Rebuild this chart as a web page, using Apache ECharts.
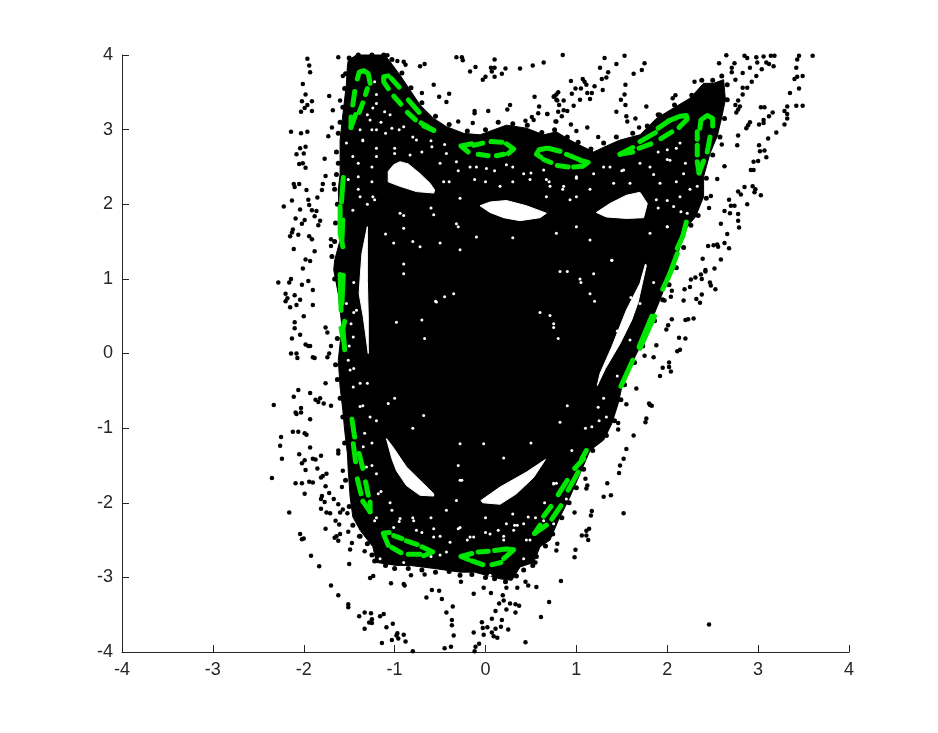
<!DOCTYPE html>
<html>
<head>
<meta charset="utf-8">
<title>scatter</title>
<script src="https://cdn.jsdelivr.net/npm/echarts@6/dist/echarts.min.js"></script>
<style>
html, body { margin: 0; background: #fff; }
#chart { width: 938px; height: 733px; }
</style>
</head>
<body>
<div id="chart"></div>
<script>
// axis ticks
const ticks = [-4, -3, -2, -1, 0, 1, 2, 3, 4];

// solid part of the orbit cloud
const massOutline = [
  [-1.51,3.93],[-1.42,4.0],[-1.11,4.0],[-1.05,3.91],[-0.94,3.73],[-0.83,3.53],[-0.72,3.33],[-0.57,3.15],[-0.43,3.04],
  [-0.24,2.95],[-0.06,2.93],[0.23,3.06],[0.45,3.02],[0.64,2.93],[0.78,2.97],[0.93,2.86],[1.04,2.79],[1.19,2.70],
  [1.33,2.78],[1.48,2.86],[1.70,2.93],[1.88,3.15],[2.07,3.29],[2.25,3.42],[2.40,3.62],[2.51,3.62],[2.62,3.67],
  [2.64,3.40],[2.60,3.17],[2.55,2.91],[2.47,2.68],[2.40,2.37],[2.40,2.10],[2.31,1.83],[2.22,1.70],[2.14,1.43],
  [2.07,1.16],[1.99,0.94],[1.92,0.72],[1.83,0.45],[1.70,0.09],[1.61,-0.13],[1.50,-0.45],[1.46,-0.67],[1.39,-0.94],
  [1.30,-1.16],[1.15,-1.30],[1.04,-1.61],[0.93,-1.92],[0.80,-2.24],[0.71,-2.50],[0.60,-2.59],[0.53,-2.80],[0.38,-2.86],
  [0.29,-3.04],[0.16,-3.02],[-0.12,-2.93],[-0.28,-2.93],[-0.57,-2.88],[-0.83,-2.84],[-0.98,-2.84],[-1.20,-2.80],
  [-1.24,-2.59],[-1.38,-2.37],[-1.46,-2.19],[-1.49,-1.92],[-1.51,-1.57],[-1.52,-1.34],[-1.55,-1.03],[-1.57,-0.76],
  [-1.60,-0.45],[-1.62,-0.09],[-1.58,0.36],[-1.62,0.80],[-1.67,1.12],[-1.66,1.25],[-1.60,1.52],[-1.62,2.19],
  [-1.60,2.41],[-1.60,2.86],[-1.58,3.09],[-1.53,3.62],[-1.52,3.85]
];

// empty islands inside the cloud
const holeTopLeft = [[-0.94,2.57],[-0.85,2.54],[-0.72,2.41],[-0.61,2.28],[-0.56,2.19],[-0.57,2.15],[-0.76,2.17],[-0.94,2.24],[-1.07,2.30],[-1.07,2.44],[-1.01,2.53]];
const holeTopMid = [[-0.06,1.98],[0.05,2.03],[0.23,2.05],[0.45,1.98],[0.67,1.88],[0.60,1.82],[0.38,1.78],[0.20,1.82],[0.05,1.89]];
const holeTopRight = [[1.22,1.89],[1.37,2.01],[1.55,2.12],[1.70,2.16],[1.78,2.01],[1.74,1.82],[1.55,1.81],[1.33,1.83]];
const holeLeft = [[-1.30,1.70],[-1.36,1.34],[-1.38,1.0],[-1.39,0.80],[-1.345,0.49],[-1.29,0],[-1.29,0.49],[-1.30,0.98]];
const holeRight = [[1.76,1.20],[1.70,0.94],[1.55,0.58],[1.39,0.09],[1.26,-0.27],[1.23,-0.43],[1.32,-0.20],[1.48,0.13],[1.61,0.45],[1.68,0.69],[1.77,1.18]];
const holeLowLeft = [[-1.09,-1.14],[-1.02,-1.25],[-0.87,-1.52],[-0.57,-1.88],[-0.57,-1.91],[-0.72,-1.90],[-0.87,-1.77],[-0.98,-1.57],[-1.03,-1.41]];
const holeLowRight = [[0.66,-1.42],[0.53,-1.66],[0.34,-1.88],[0.16,-2.02],[-0.03,-2.0],[-0.05,-1.97],[0.16,-1.79],[0.45,-1.59]];

// dots that make the rough rim of the cloud
const rimDots = [
  [-1.54,3.75],[-1.55,3.55],[-1.57,3.3],[-1.6,3.1],[-1.62,2.95],[-1.64,2.7],[-1.62,2.55],[-1.64,2.4],[-1.66,2.2],[-1.63,2.0],[-1.65,1.75],
  [-1.66,1.5],[-1.69,1.3],[-1.66,1.0],[-1.63,0.2],[-1.65,-0.15],[-1.63,-0.35],[-1.6,-0.6],[-1.57,-0.85],[-1.55,-1.2],[-1.54,-1.7],[-1.5,-2.05],
  [-1.46,-2.3],[-1.38,-2.45],[-1.3,-2.55],[-1.25,-2.7],[-1.22,-2.78],[-1.1,-2.84],[-1.0,-2.88],[-0.85,-2.88],[-0.7,-2.9],[-0.55,-2.93],[-0.4,-2.92],
  [-0.28,-2.97],[-0.15,-2.96],[0.0,-3.0],[0.1,-3.02],[0.22,-3.06],[0.34,-2.98],[0.42,-2.9],[0.52,-2.84],[0.56,-2.72],[0.66,-2.58],[0.74,-2.42],
  [0.84,-2.2],[0.92,-2.0],[1.0,-1.8],[1.08,-1.55],[1.18,-1.3],[1.33,-1.1],[1.42,-0.9],[1.49,-0.62],[1.53,-0.42],[1.64,-0.12],[1.73,0.1],
  [1.86,0.44],[1.95,0.72],[2.02,0.92],[2.1,1.15],[2.18,1.42],[2.26,1.72],[2.34,1.85],[2.43,2.08],[2.43,2.35],[2.5,2.66],[2.58,2.9],[2.63,3.15],
  [2.66,3.4],[2.66,3.6],[2.6,3.72],[2.5,3.66],[2.38,3.66],[2.27,3.46],[2.08,3.33],[1.9,3.2],[1.78,3.05],[1.62,2.95],[1.44,2.9],[1.3,2.82],
  [1.16,2.74],[1.02,2.83],[0.9,2.9],[0.76,3.0],[0.62,2.96],[0.46,3.06],[0.3,3.08],[0.14,3.1],[0.0,3.0],[-0.2,2.98],[-0.4,3.07],[-0.55,3.18],
  [-0.7,3.36],[-0.82,3.56],[-0.92,3.76],[-1.03,3.94],[-1.12,4.0],[-1.25,4.0],[-1.4,4.0],[-1.5,3.96]
];

// scattered points outside the cloud
const outerDots = [
  [-1.96,3.95],[-1.62,3.97],[-1.94,3.86],[-1.93,3.77],[-2.01,3.61],[-1.98,3.47],[-2.02,3.38],[-1.91,3.38],[-1.96,3.33],[-1.99,3.29],
  [-2.03,3.24],[-1.91,3.25],[-1.72,3.45],[-1.60,3.39],[-1.68,3.26],[-1.69,3.03],[-1.73,2.91],[-1.57,3.72],[-2.14,2.97],[-2.03,2.95],
  [-1.96,2.97],[-1.98,2.77],[-2.04,2.75],[-2.08,2.67],[-2.0,2.68],[-1.77,2.61],[-2.05,2.54],[-2.01,2.55],[-1.98,2.49],[-1.76,2.38],
  [-2.11,2.27],[-2.05,2.27],[-2.10,2.23],[-1.79,2.27],[-1.67,2.27],[-1.80,2.19],[-1.97,2.19],[-1.85,2.09],[-2.22,1.97],[-2.13,2.05],
  [-1.95,2.06],[-1.94,1.99],[-2.04,1.93],[-1.91,1.92],[-1.86,1.91],[-1.88,1.84],[-2.09,1.81],[-1.99,1.79],[-2.02,1.74],[-1.82,1.78],
  [-1.84,1.72],[-2.12,1.66],[-2.13,1.62],[-2.15,1.57],[-2.06,1.59],[-1.94,1.57],[-1.91,1.53],[-1.70,1.53],[-1.70,1.44],[-2.11,1.40],
  [-1.88,1.37],[-1.98,1.26],[-1.93,1.24],[-2.01,1.14],
  [-2.28,0.95],[-2.14,1.0],[-2.16,0.95],[-2.2,0.8],[-2.18,0.74],[-2.2,0.7],[-2.15,0.62],[-2.08,0.65],[-2.1,0.78],[-2.02,0.92],[-2.04,0.72],
  [-1.95,0.97],[-1.9,0.85],[-1.9,0.65],[-2.0,0.5],[-2.1,0.42],[-2.1,0.34],[-2.13,0.2],[-2.04,0.25],[-1.98,0.12],[-1.95,0.1],[-1.93,0.1],
  [-2.14,0.0],[-2.08,0.0],[-2.07,-0.06],[-1.9,-0.05],[-1.88,-0.06],[-1.7,0.1],[-1.74,-0.05],[-1.76,0.35],[-1.74,0.28],[-1.72,0.0],
  [-2.06,-0.49],[-1.93,-0.53],[-2.11,-0.58],[-1.87,-0.62],[-1.84,-0.65],[-1.82,-0.6],[-1.78,-0.67],[-2.33,-0.69],[-2.08,-0.81],[-2.09,-0.79],
  [-2.03,-0.73],[-2.03,-0.79],[-1.93,-0.88],[-1.76,-0.4],[-1.7,-0.7],
  [-2.12,-1.05],[-2.06,-1.05],[-1.99,-1.07],[-1.97,-1.09],[-2.25,-1.12],[-2.26,-1.235],[-1.93,-1.26],[-2.24,-1.41],[-2.05,-1.35],[-1.99,-1.43],
  [-2.02,-1.47],[-1.90,-1.41],[-1.87,-1.42],[-1.81,-1.37],[-1.62,-1.30],[-1.62,-1.34],[-1.98,-1.56],[-1.85,-1.54],[-1.57,-1.57],[-1.81,-1.66],
  [-1.79,-1.64],[-1.75,-1.61],[-2.35,-1.67],[-2.09,-1.74],[-2.02,-1.74],[-1.94,-1.72],[-1.90,-1.73],[-1.76,-1.78],[-1.58,-1.79],[-1.99,-1.88],
  [-1.72,-1.87],[-1.80,-1.91],[-1.81,-1.95],[-1.77,-1.99],[-1.67,-1.95],[-1.62,-2.02],[-1.57,-2.09],[-1.60,-2.13],[-1.81,-2.08],[-1.75,-2.13],
  [-1.71,-2.14],[-1.52,-2.14],[-2.16,-2.13],[-1.65,-2.24],[-1.61,-2.29],[-1.76,-2.35],[-2.04,-2.42],[-2.02,-2.49],[-2.00,-2.48],[-1.60,-2.42],
  [-1.64,-2.45],[-1.66,-2.47],[-1.62,-2.51],[-1.51,-2.39],[-1.39,-2.45],[-1.47,-2.54],[-1.49,-2.625],[-1.33,-2.65],[-1.92,-2.71],[-1.83,-2.85],
  [-1.50,-2.82],[-1.235,-2.98],[-1.27,-3.01],[-1.04,-3.08],[-0.90,-3.09],[-0.89,-3.11],[-0.82,-2.97],[-0.67,-2.96],[-1.70,-3.11],[-1.62,-3.24],
  [-1.51,-3.36],[-1.51,-3.40],[-0.59,-3.17],[-0.51,-3.18],[-0.65,-3.27],[-1.39,-3.52],[-1.33,-3.47],[-1.26,-3.48],[-1.16,-3.52],[-1.12,-3.49],
  [-1.25,-3.56],[-1.28,-3.605],[-1.25,-3.61],[-1.33,-3.69],[-1.09,-3.67],[-1.02,-3.62],[-0.97,-3.75],[-0.98,-3.78],[-0.90,-3.77],[-0.96,-3.82],
  [-1.03,-3.84],[-0.88,-3.86],[-1.14,-3.88],[-0.80,-3.99],
  [-1.08,3.997],[-0.97,3.92],[-0.90,3.91],[-0.88,3.87],[-0.72,3.85],[-0.67,3.88],[-0.32,3.97],[-0.26,3.97],[-0.25,3.93],[-0.17,3.78],
  [-0.11,3.84],[0.10,3.94],[0.06,3.83],[0.10,3.83],[0.07,3.78],[0.22,3.82],[0.18,3.75],[0.10,3.71],[0.00,3.71],[-0.03,3.67],
  [0.38,3.82],[0.52,3.86],[0.64,3.90],[-0.57,3.60],[-0.70,3.49],[-0.40,3.48],[-0.51,3.44],[-0.43,3.37],[-0.12,3.25],[-0.12,3.22],
  [0.03,3.25],[0.24,3.27],[0.27,3.33],[-0.14,3.09],[-0.30,3.11],[0.54,3.44],[0.59,3.31],[0.58,3.22],[0.68,3.21],[0.78,3.47],
  [0.75,3.44],[0.79,3.39],[0.80,3.24],[0.78,3.11],[0.44,3.12],[0.51,3.17],[0.53,3.13],
  [0.85,4.00],[1.31,3.96],[1.53,3.99],[1.44,3.88],[1.26,3.83],[1.35,3.77],[1.33,3.70],[1.28,3.68],[1.75,3.89],[1.72,3.80],
  [1.63,3.75],[0.94,3.65],[1.07,3.68],[1.09,3.64],[1.11,3.60],[0.99,3.55],[1.05,3.55],[1.20,3.58],[1.29,3.53],[1.54,3.60],
  [0.80,3.50],[0.95,3.48],[1.12,3.49],[1.17,3.49],[0.76,3.45],[0.78,3.40],[0.86,3.39],[1.04,3.40],[1.15,3.41],[1.53,3.47],
  [1.49,3.40],[1.54,3.33],[0.81,3.33],[0.97,3.32],[0.86,3.26],[0.90,3.25],[0.68,3.21],[0.84,3.18],[1.44,3.24],[1.77,3.31],
  [1.55,3.18],[1.65,3.15],[1.56,3.11],[0.77,3.11],[0.94,3.07],[1.12,3.03],[1.00,2.98],[1.69,3.03],[1.24,2.90],[1.92,3.20],
  [2.09,3.46],[2.06,3.42],[2.30,3.64],
  [2.65,3.997],[2.85,3.99],[2.88,3.96],[2.98,3.97],[3.06,3.98],[3.14,3.99],[3.18,3.99],[3.45,3.99],[3.60,3.99],[3.43,3.94],
  [2.57,3.89],[2.74,3.89],[2.71,3.83],[2.71,3.77],[2.83,3.76],[2.91,3.83],[2.99,3.90],[3.09,3.90],[3.12,3.88],[3.17,3.85],
  [3.42,3.83],[3.04,3.81],[2.98,3.72],[2.93,3.64],[2.83,3.56],[2.88,3.56],[2.75,3.67],[3.43,3.71],[3.49,3.72],[3.40,3.68],
  [3.45,3.55],[3.35,3.49],[2.83,3.47],[2.78,3.39],[2.75,3.33],[2.80,3.31],[2.78,3.27],[2.76,3.23],[3.42,3.32],[3.49,3.32],
  [3.32,3.31],[3.03,3.30],[3.07,3.30],[3.29,3.25],[3.32,3.21],[3.16,3.23],[3.12,3.18],[3.06,3.13],[3.06,3.09],[3.01,3.07],
  [3.32,3.15],[3.29,3.07],[2.91,3.10],[2.89,3.06],[2.87,3.02],[3.20,2.96],[3.11,2.88],[2.78,2.92],[2.77,2.79],[2.60,2.80],
  [3.01,2.79],[3.02,2.71],[3.07,2.72],[3.09,2.63],[3.00,2.58],[2.95,2.57],[2.92,2.46],[2.95,2.46],[2.63,2.51],[2.55,2.34],
  [2.85,2.23],[2.94,2.24],[2.97,2.20],[2.96,2.16],[3.03,2.12],[2.78,2.17],[2.81,2.13],[2.48,2.11],[2.68,2.06],[2.88,2.00],
  [2.70,1.98],[2.74,1.98],[2.46,1.95],[2.63,1.91],[2.69,1.88],[2.78,1.87],[2.78,1.78],[2.59,1.74],[2.79,1.69],[2.66,1.60],
  [2.45,1.44],[2.51,1.45],[2.55,1.46],[2.63,1.48],[2.56,1.43],[2.68,1.41],[2.39,1.27],[2.59,1.26],[2.52,1.14],[2.42,1.12],
  [2.31,1.02],[2.26,0.99],[2.37,1.06],[2.42,1.10],[2.38,1.0],[2.47,0.95],[2.48,0.91],[2.53,0.86],[2.25,0.89],[2.19,0.86],
  [2.38,0.79],[2.32,0.73],[2.36,0.68],[2.18,0.71],[2.05,0.84],[2.04,0.76],[1.97,0.71],[2.05,0.46],[2.20,0.45],[2.23,0.46],
  [2.29,0.47],[2.01,0.38],[1.99,0.32],[2.13,0.21],[2.20,0.20],[1.88,0.11],[2.14,0.05],[2.11,0.03],[1.75,-0.03],[1.85,-0.05],
  [2.02,-0.12],[1.95,-0.19],[2.02,-0.18],[2.04,-0.24],[1.92,-0.30],[1.66,-0.47],[1.55,-0.68],[1.80,-0.67],[1.81,-0.69],[1.83,-0.70],
  [1.77,-0.87],[1.76,-0.92],[1.46,-0.93],[1.46,-1.02],[1.63,-1.10],
  [1.55,-1.28],[1.52,-1.41],[1.48,-1.50],[1.47,-1.60],[1.34,-1.74],[1.38,-1.90],[1.30,-1.92],[1.10,-1.68],[1.12,-1.77],[1.11,-1.81],
  [0.98,-2.13],[1.17,-2.11],[1.16,-2.17],[1.52,-2.14],[1.14,-2.35],[1.11,-2.375],[1.06,-2.44],[1.11,-2.44],[1.13,-2.50],[0.79,-2.55],
  [0.78,-2.64],[0.99,-2.63],[0.98,-2.73],[0.55,-2.80],[0.83,-3.05],[0.44,-3.06],[0.47,-3.11],[0.56,-3.13],[0.35,-3.14],[0.23,-3.14],
  [-0.02,-3.14],[-0.27,-3.06],[-0.13,-3.22],[0.06,-3.21],[0.19,-3.24],[-0.48,-3.29],[0.20,-3.31],[0.15,-3.35],[0.27,-3.35],[0.33,-3.36],
  [0.37,-3.38],[0.70,-3.33],[-0.36,-3.39],[-0.43,-3.47],[0.23,-3.43],[0.33,-3.47],[0.11,-3.45],[0.61,-3.53],[0.07,-3.556],[0.18,-3.57],
  [-0.37,-3.57],[-0.04,-3.60],[-0.37,-3.64],[0.02,-3.67],[-0.03,-3.68],[0.11,-3.69],[0.17,-3.66],[0.25,-3.70],[-0.35,-3.78],[-0.13,-3.74],
  [-0.02,-3.77],[0.07,-3.74],[0.09,-3.79],[0.13,-3.81],[0.44,-3.87],[-0.07,-3.89],[-0.11,-3.93],[-0.38,-3.93],[-0.45,-3.95],[-0.12,-3.99],
  [2.46,-3.63]
];

// small gaps showing through the cloud
const whiteSpecks = [
  [-1.30,3.2],[-1.2,3.35],[-1.15,3.1],[-1.05,3.2],[-1.25,3.0],[-1.1,2.95],[-0.95,3.0],[-1.35,2.85],[-1.2,2.75],[-0.8,2.9],[-0.6,2.85],[-0.7,2.7],
  [-0.45,2.8],[-1.0,2.75],[-1.4,2.55],[-1.25,2.5],[-1.4,2.2],[-1.25,2.3],[-1.3,2.0],[-0.5,2.55],[-0.3,2.45],[-0.1,2.5],[0.1,2.45],[0.3,2.5],[0.5,2.42],
  [-0.4,2.3],[0.0,2.3],[0.3,2.3],[0.7,2.3],[1.0,2.35],[1.3,2.5],[1.5,2.45],[1.7,2.55],[1.9,2.7],[2.0,2.6],[2.1,2.75],[2.2,2.55],[1.85,2.4],[2.1,2.3],
  [2.25,2.2],[2.0,2.05],[2.15,1.9],[1.9,1.95],[2.0,1.7],[1.0,2.1],[0.85,2.2],[1.15,2.2],[-0.6,1.95],[-0.9,1.85],[-0.3,1.7],[0.3,1.55],[1.0,1.7],
  [-1.1,1.6],[-0.8,1.5],[-1.3,-0.4],[-1.45,-0.2],[-1.35,-0.7],[-1.2,-0.9],[-1.25,-1.2],[-1.25,-1.5],[-1.15,-1.85],[-1.05,-2.0],[-1.2,-2.2],[-0.95,-2.25],
  [-0.8,-2.2],[-0.6,-2.2],[-0.7,-2.4],[-0.5,-2.45],[-0.3,-2.35],[-0.2,-2.5],[0,-2.4],[0.2,-2.45],[0.35,-2.3],[0.55,-2.2],[0.3,-2.15],[0.0,-2.2],
  [-0.5,-2.7],[-0.6,-2.72],[1.25,-0.9],[1.1,-1.0],[0.95,-1.3],[0.75,-1.75],[0.65,-2.0],[1.45,0.3],[1.6,0.75],[1.85,0.95],[1.45,-0.3],[1.3,-0.6],
  [-1.45,0.95],[-1.48,0.4],[-1.45,0.55],[-1.5,0.1],[-0.55,0.7],[-0.45,0.76],[-0.35,0.8],[0.6,0.55],[0.75,0.35],[0.8,0.2],[-0.7,0.45],[-0.9,1.2],[0.9,1.1],
  [1.05,0.95],[1.2,0.7],[-1.0,-0.6],[-0.8,-1.0],[0.9,-0.7],[0.5,-1.2],[-0.3,-1.5],[0.2,-1.4],
  [-1.22,3.64],[-1.20,3.47],[-1.24,3.29],[-1.11,3.24],[-1.27,3.13],[-1.38,3.0],[-1.53,2.82],[-1.35,2.86],[-1.20,3.0],[-1.03,3.02],[-0.90,3.04],[-0.76,2.86],
  [-0.59,2.77],[-0.83,2.66],[-1.0,2.68],[-1.2,2.64],[-1.46,2.64],[-1.51,2.33],[-1.40,2.37],[-1.24,2.10],[-1.38,2.10],[-1.46,1.92],[-1.22,2.06],[-0.94,1.88],
  [-0.43,2.68],[-0.32,2.57],[-0.17,2.50],[0.01,2.48],[0.23,2.53],[0.42,2.41],[0.64,2.46],[-0.46,2.30],[-0.28,2.08],[-0.12,2.33],[0.16,2.24],[0.49,2.33],
  [0.71,2.24],[-0.90,1.68],[-0.72,1.43],[-0.50,1.48],[-0.28,1.39],[-1.01,1.48],[-0.57,1.86],[-0.32,1.74],[-0.10,1.56],[0.75,2.73],
  [0.67,2.33],[0.86,2.24],[1.0,2.37],[1.19,2.41],[1.37,2.50],[1.52,2.46],[1.41,2.28],[1.59,2.28],[1.81,2.50],[2.0,2.73],[2.14,2.82],[2.03,2.59],[2.18,2.41],
  [1.92,2.28],[2.14,2.10],[2.33,2.24],[1.88,2.06],[2.07,1.97],[2.22,1.88],[2.0,1.70],[1.81,1.61],[0.78,1.61],[1.15,1.52],[1.39,1.25],[0.93,2.06],[0.67,2.10],
  [-1.20,-1.61],[-1.345,-1.25],[-1.18,-1.88],[-1.03,-2.10],[-1.22,-2.24],[-1.31,-1.52],[-0.94,-2.21],[-0.76,-2.37],[-0.57,-2.35],[-0.43,-2.10],[-0.28,-2.33],
  [-0.13,-2.46],[0.05,-2.42],[0.23,-2.28],[0.42,-2.28],[0.64,-2.24],[0.75,-1.74],[-0.28,-1.70],[-0.02,-1.21],[0.31,-2.37],[0.20,-2.50],[0.49,-2.50],[-0.43,-2.66],
  [-0.90,-2.80],[-1.16,-2.75],[0.05,-2.97],[-0.28,-1.21],[-0.57,-2.46],[-0.79,-2.24],[-1.01,-2.33],
  [-1.455,0.22],[-1.51,-0.09],[-1.38,-0.40],[-1.455,-0.45],[-1.38,-0.71],[-1.27,-0.85],[-1.33,-1.07],[-1.07,-0.67],[-1.42,0.58],[-1.53,0.67],[-1.49,-0.22],
  [-0.90,1.07],[-0.54,0.69],[-0.68,-0.83],[-0.98,0.42],[-0.67,0.20],
  [1.59,0.18],[1.70,0.67],[1.24,-0.72],[1.17,-0.98],[1.33,-0.85],[0.82,-0.92],[0.71,0.51],[0.75,0.40],[1.19,1.07],[0.82,1.10],[1.15,0.80],[1.04,1.0],[1.39,1.25],
  [0.78,-1.74],[0.89,-1.95],[0.75,-2.28],[0.47,-2.19],[0.32,-2.30],[0.14,-2.37],[-0.17,-2.46],[-0.39,-2.53],[-0.26,-1.70],[-0.32,-1.97],[0.45,-2.50],[0.42,-2.75]
];

// green curve, one entry per dash
const greenDashes = [
  [[-1.41,3.68],[-1.39,3.77],[-1.34,3.79],[-1.29,3.75],[-1.27,3.62]],[[-1.30,3.55],[-1.32,3.47]],[[-1.44,3.51],[-1.46,3.33]],[[-1.35,3.36],[-1.39,3.23]],
  [[-1.43,3.20],[-1.48,3.03]],[[-1.48,3.17],[-1.48,3.03]],
  [[-1.07,3.55],[-1.12,3.64],[-1.12,3.71],[-1.07,3.72]],[[-1.04,3.69],[-0.95,3.57]],[[-1.01,3.45],[-0.93,3.34]],[[-0.85,3.40],[-0.73,3.23]],[[-0.86,3.23],[-0.77,3.13]],
  [[-0.71,3.09],[-0.57,2.99]],[[-0.68,3.05],[-0.57,2.99]],
  [[-0.15,2.81],[-0.27,2.78],[-0.19,2.70]],[[-0.13,2.79],[-0.03,2.82]],[[0.06,2.84],[0.18,2.83]],[[0.23,2.81],[0.31,2.74],[0.25,2.68]],[[0.12,2.65],[0.20,2.67]],[[-0.08,2.67],[0.03,2.65]],
  [[0.67,2.75],[0.59,2.73],[0.56,2.67],[0.61,2.63]],[[0.64,2.60],[0.72,2.56]],[[0.69,2.75],[0.82,2.71]],[[0.89,2.67],[1.03,2.60]],[[1.04,2.59],[1.13,2.56],[1.07,2.51]],
  [[0.97,2.50],[1.06,2.51]],[[0.79,2.52],[0.91,2.50]],
  [[1.48,2.67],[1.62,2.76]],[[1.48,2.67],[1.62,2.70]],[[1.69,2.75],[1.82,2.81]],[[1.70,2.84],[1.87,2.96]],[[1.93,2.88],[2.05,2.97]],[[1.90,3.02],[2.01,3.11]],
  [[2.02,3.12],[2.14,3.18],[2.21,3.19],[2.22,3.14],[2.13,3.03]],
  [[2.36,3.02],[2.37,3.13],[2.44,3.19],[2.50,3.15],[2.50,3.05]],[[2.33,2.97],[2.33,2.87]],[[2.47,2.90],[2.44,2.70]],[[2.33,2.79],[2.33,2.66]],
  [[2.35,2.42],[2.33,2.57]],[[2.35,2.42],[2.40,2.58]],
  [[2.21,1.76],[2.17,1.57]],[[2.17,1.57],[2.11,1.41]],[[2.11,1.34],[2.01,1.01]],[[2.07,1.18],[1.95,0.86]],[[1.86,0.50],[1.70,0.07]],[[1.83,0.50],[1.69,0.09]],[[1.62,-0.09],[1.49,-0.44]],
  [[-1.565,2.36],[-1.585,2.03]],[[-1.60,1.97],[-1.60,1.61],[-1.57,1.43]],[[-1.57,1.79],[-1.58,1.52]],[[-1.60,1.06],[-1.59,0.58]],[[-1.565,1.05],[-1.58,0.67]],
  [[-1.55,0.43],[-1.57,0.34],[-1.55,0.05]],[[-1.59,0.34],[-1.565,0.18]],
  [[-1.47,-0.88],[-1.44,-1.12]],[[-1.455,-1.21],[-1.43,-1.45]],[[-1.39,-1.34],[-1.35,-1.54]],[[-1.41,-1.68],[-1.37,-1.88]],[[-1.32,-1.72],[-1.29,-1.90]],
  [[-1.35,-1.98],[-1.27,-2.12]],[[-1.27,-1.99],[-1.27,-2.12]],
  [[-1.07,-2.57],[-1.125,-2.41],[-1.06,-2.40]],[[-1.01,-2.44],[-0.92,-2.48]],[[-0.87,-2.51],[-0.75,-2.56]],[[-0.70,-2.59],[-0.58,-2.66],[-0.68,-2.71]],
  [[-0.85,-2.69],[-0.72,-2.69]],[[-1.03,-2.60],[-0.93,-2.67]],
  [[-0.15,-2.68],[-0.27,-2.72],[-0.19,-2.76]],[[-0.15,-2.78],[-0.03,-2.83]],[[0.07,-2.83],[0.17,-2.80]],[[0.20,-2.75],[0.31,-2.63],[0.24,-2.62]],[[0.10,-2.64],[0.22,-2.62]],[[-0.08,-2.66],[0.03,-2.65]],
  [[0.54,-2.41],[0.67,-2.30]],[[0.54,-2.41],[0.60,-2.30]],[[0.64,-2.18],[0.72,-2.05]],[[0.73,-2.22],[0.83,-2.04]],[[0.80,-1.89],[0.90,-1.70]],[[0.91,-1.83],[1.02,-1.59]],
  [[0.98,-1.54],[1.08,-1.41]],[[1.06,-1.41],[1.11,-1.30]]
];

const holes = [holeTopLeft, holeTopMid, holeTopRight, holeLeft, holeRight, holeLowLeft, holeLowRight];

function polygonSeries(shapes, colour, z) {
  return {
    type: 'custom',
    silent: true,
    z: z,
    clip: false,
    data: shapes.map((s, i) => [i]),
    encode: { x: [], y: [] },
    renderItem: function (params, api) {
      const pts = shapes[params.dataIndex].map(p => api.coord(p));
      return {
        type: 'polygon',
        shape: { points: pts },
        style: { fill: colour, stroke: colour, lineWidth: 1, lineJoin: 'round' }
      };
    }
  };
}

function dotSeries(points, colour, size, z) {
  return {
    type: 'scatter',
    data: points,
    symbol: 'circle',
    symbolSize: size,
    silent: true,
    clip: false,
    z: z,
    itemStyle: { color: colour, opacity: 1 }
  };
}

const axisCommon = {
  type: 'value',
  min: -4,
  max: 4,
  interval: 1,
  splitLine: { show: false },
  axisLine: { onZero: false, lineStyle: { color: '#262626', width: 1 } },
  axisTick: { inside: true, length: 7, lineStyle: { color: '#262626', width: 1 } },
  axisLabel: {
    color: '#262626',
    fontFamily: '"Liberation Sans", Arial, sans-serif',
    fontSize: 18,
    margin: 9,
    customValues: ticks,
    formatter: v => String(v)
  }
};

const chart = echarts.init(document.getElementById('chart'), null, { renderer: 'canvas' });
chart.setOption({
  animation: false,
  backgroundColor: '#fff',
  grid: { left: 122, right: 89, top: 55, bottom: 81 },
  xAxis: axisCommon,
  yAxis: axisCommon,
  series: [
    polygonSeries([massOutline], '#000', 2),
    dotSeries(rimDots, '#000', 5, 3),
    polygonSeries(holes, '#fff', 4),
    dotSeries(whiteSpecks, '#fff', 3, 5),
    dotSeries(outerDots, '#000', 4.5, 6),
    ...greenDashes.map(d => ({
      type: 'line',
      data: d,
      silent: true,
      clip: false,
      z: 7,
      symbol: 'none',
      lineStyle: { color: '#00e600', width: 5, cap: 'round', join: 'round', opacity: 1 }
    }))
  ]
});
</script>
</body>
</html>
